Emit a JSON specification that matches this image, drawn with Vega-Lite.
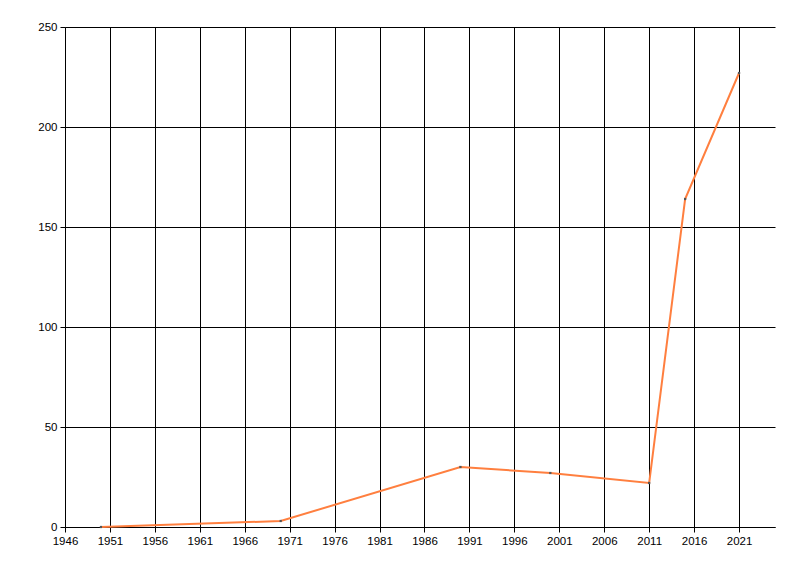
{
  "$schema": "https://vega.github.io/schema/vega-lite/v6.json",
  "width": 710,
  "height": 500,
  "autosize": {"type": "none"},
  "padding": {"left": 65, "top": 27, "right": 25, "bottom": 49},
  "background": "white",
  "config": {"view": {"stroke": null}},
  "data": {"values": [
    {"year": 1950, "value": 0},
    {"year": 1970, "value": 3},
    {"year": 1990, "value": 30},
    {"year": 2000, "value": 27},
    {"year": 2011, "value": 22},
    {"year": 2015, "value": 164},
    {"year": 2021, "value": 227}
  ]},
  "encoding": {
    "x": {"field": "year", "type": "quantitative",
      "scale": {"domain": [1946, 2025], "nice": false, "zero": false},
      "axis": {"title": null, "values": [1946,1951,1956,1961,1966,1971,1976,1981,1986,1991,1996,2001,2006,2011,2016,2021],
        "format": "d", "grid": true, "gridColor": "black", "gridOpacity": 1, "gridWidth": 1,
        "domainColor": "black", "tickColor": "black", "tickSize": 5, "labelColor": "black",
        "labelFont": "Liberation Sans", "labelFontSize": 11.5, "labelPadding": 3, "labelFlush": false}},
    "y": {"field": "value", "type": "quantitative",
      "scale": {"domain": [0, 250], "nice": false},
      "axis": {"title": null, "values": [0,50,100,150,200,250], "grid": true, "gridColor": "black", "gridOpacity": 1, "gridWidth": 1,
        "domainColor": "black", "tickColor": "black", "tickSize": 5, "labelColor": "black",
        "labelFont": "Liberation Sans", "labelFontSize": 11.5, "labelPadding": 3}}
  },
  "layer": [
    {"mark": {"type": "line", "color": "#FF7F3F", "strokeWidth": 2}},
    {"mark": {"type": "square", "color": "#555555", "size": 5, "opacity": 1, "filled": true}}
  ]
}
